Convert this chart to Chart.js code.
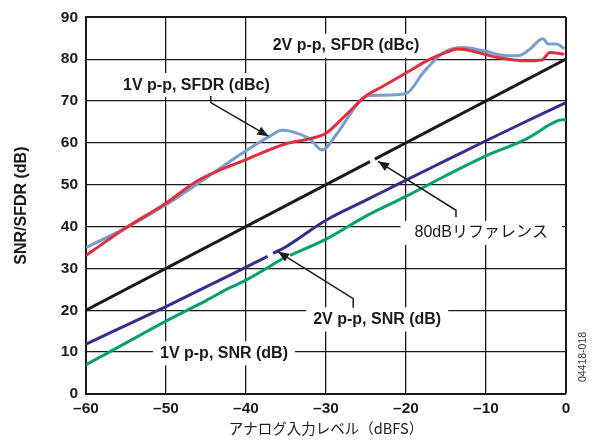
<!DOCTYPE html>
<html>
<head>
<meta charset="utf-8">
<script src="https://cdn.jsdelivr.net/npm/chart.js@4/dist/chart.umd.min.js"></script>
<style>
    html, body { margin: 0; padding: 0; background: #fff; }
    #chart { display: block; }
</style>
</head>
<body>
<canvas id="chart" width="594" height="440"></canvas>
<script>
// Values (x = input level, dBFS)
const xTicks = [-60, -50, -40, -30, -20, -10, 0];
const yTicks = [0, 10, 20, 30, 40, 50, 60, 70, 80, 90];

// 1V p-p, SFDR (dBc)
const sfdr1VX = [-60, -55, -50, -46, -40, -37, -35.5, -34.5, -32, -30.5, -28.7, -26.2, -25, -23, -20, -17.8, -15.3, -12.8, -10.3, -7.4, -5.8, -4.5, -2.9, -2.2, -1.2, -0.2];
const sfdr1V = [35, 39.7, 45.2, 50.3, 58.1, 61.6, 63, 62.8, 60.9, 58.3, 62, 69, 71.2, 71.4, 71.8, 76.9, 81.6, 82.8, 82, 80.8, 80.9, 82.4, 84.9, 83.6, 83.6, 82.5];

// 2V p-p, SFDR (dBc)
const sfdr2VX = [-60, -55, -50, -46, -40, -35, -32, -30, -27.5, -25, -23, -20, -17, -15, -13.5, -11, -8.5, -5, -3, -2, -0.2];
const sfdr2V = [33.1, 39.7, 45.6, 51, 56, 59.8, 61, 62.3, 66.7, 71.2, 73.4, 76.7, 80, 81.6, 82.4, 81.6, 80.4, 79.6, 79.8, 81.6, 81.2];

// 80dB reference (gap where the arrow touches it)
const refX = [-60, -24.5, -24.2, -23.9, 0];
const refLevel = [20, 55.5, null, 56.1, 80];

// 2V p-p, SNR (dB)
const snr2VX = [-60, -55, -50, -45, -42, -37.3, -37, -36.6, -35, -30, -25, -20, -15, -10, -5, 0];
const snr2V = [11.9, 16.4, 20.9, 25.6, 28.4, 32.9, null, 33.6, 35.2, 41.5, 46.3, 51.1, 55.8, 60.5, 65.1, 69.6];

// 1V p-p, SNR (dB)
const snr1VX = [-60, -55, -50, -45, -42, -40, -35.2, -34.9, -34.5, -30, -25, -20, -15, -10, -5, -1, 0];
const snr1V = [7, 12.2, 17.4, 22.3, 25.4, 27.2, 32.6, null, 33.1, 37, 42.5, 47.2, 52.2, 56.9, 60.9, 65.3, 65.6];

const labelFont = '"Liberation Sans", Arial, "Noto Sans CJK JP", sans-serif';

/**
 * Callout texts, in data coordinates
 */
const callouts = [
    { text: '2V p-p, SFDR (dBc)', x: -27.5, y: 83.2, bold: true, padX: 6 },
    { text: '1V p-p, SFDR (dBc)', x: -46.2, y: 73.8, bold: true, padX: 6 },
    { text: '80dBリファレンス', x: -10.6, y: 38.5, bold: false, padX: 14 },
    { text: '2V p-p, SNR (dB)', x: -23.6, y: 17.8, bold: true, padX: 7 },
    { text: '1V p-p, SNR (dB)', x: -42.75, y: 9.7, bold: true, padX: 7 }
];

// Leader lines, last point carries the arrow head
const leaders = [
    [[-44.4, 71.2], [-44.4, 69.6], [-37.2, 61.6]],
    [[-13.75, 42.3], [-13.75, 43.9], [-23.5, 55.6]],
    [[-26.6, 20.6], [-26.6, 22.8], [-36, 34.0]]
];

function toPoints(xs, ys) {
    return xs.map((x, i) => ({ x: x, y: ys[i] }));
}

function makeSet(xs, ys, color) {
    return {
        data: toPoints(xs, ys),
        borderColor: color,
        borderWidth: 3,
        pointRadius: 0,
        fill: false,
        spanGaps: false,
        cubicInterpolationMode: 'monotone'
    };
}

function drawArrow(ctx, from, to) {
    const ang = Math.atan2(to[1] - from[1], to[0] - from[0]);
    const len = 11, half = 4.5;
    ctx.beginPath();
    ctx.moveTo(to[0], to[1]);
    ctx.lineTo(to[0] - len * Math.cos(ang) + half * Math.sin(ang), to[1] - len * Math.sin(ang) - half * Math.cos(ang));
    ctx.lineTo(to[0] - len * Math.cos(ang) - half * Math.sin(ang), to[1] - len * Math.sin(ang) + half * Math.cos(ang));
    ctx.closePath();
    ctx.fill();
}

const calloutPlugin = {
    id: 'callouts',
    beforeDatasetsDraw(chart) {
        const ctx = chart.ctx;
        const xs = chart.scales.x, ys = chart.scales.y;
        ctx.save();
        // white boxes behind the callouts
        ctx.fillStyle = '#fff';
        callouts.forEach(c => {
            ctx.font = (c.bold ? 'bold ' : '') + '16px ' + labelFont;
            const w = ctx.measureText(c.text).width + 2 * c.padX;
            const px = xs.getPixelForValue(c.x), py = ys.getPixelForValue(c.y);
            ctx.fillRect(px - w / 2, py - 12, w, 24);
        });
        ctx.restore();
    },
    afterDatasetsDraw(chart) {
        const ctx = chart.ctx;
        const xs = chart.scales.x, ys = chart.scales.y;
        ctx.save();
        ctx.fillStyle = '#1a1a1a';
        ctx.textAlign = 'center';
        ctx.textBaseline = 'middle';
        callouts.forEach(c => {
            ctx.font = (c.bold ? 'bold ' : '') + '16px ' + labelFont;
            ctx.fillText(c.text, xs.getPixelForValue(c.x), ys.getPixelForValue(c.y));
        });
        ctx.strokeStyle = '#1a1a1a';
        ctx.lineWidth = 1.5;
        leaders.forEach(pts => {
            const p = pts.map(d => [xs.getPixelForValue(d[0]), ys.getPixelForValue(d[1])]);
            ctx.beginPath();
            ctx.moveTo(p[0][0], p[0][1]);
            for (let i = 1; i < p.length; i++) ctx.lineTo(p[i][0], p[i][1]);
            ctx.stroke();
            drawArrow(ctx, p[p.length - 2], p[p.length - 1]);
        });
        ctx.restore();
    },
    afterDraw(chart) {
        const ctx = chart.ctx;
        const area = chart.chartArea;
        ctx.save();
        ctx.fillStyle = '#1a1a1a';
        ctx.textAlign = 'center';
        ctx.textBaseline = 'middle';
        // x title
        ctx.font = '14.5px "Noto Sans CJK JP", ' + labelFont;
        ctx.fillText('アナログ入力レベル（dBFS）', 326, 428);
        // y title
        ctx.save();
        ctx.translate(22, (area.top + area.bottom) / 2);
        ctx.rotate(-Math.PI / 2);
        ctx.font = 'bold 16px ' + labelFont;
        ctx.fillText('SNR/SFDR (dB)', 0, 0);
        ctx.restore();
        // figure id
        ctx.save();
        ctx.translate(583, 357);
        ctx.rotate(-Math.PI / 2);
        ctx.font = '10.5px ' + labelFont;
        ctx.fillStyle = '#333';
        ctx.fillText('04418-018', 0, 0);
        ctx.restore();
        ctx.restore();
    }
};

const tickFont = { family: labelFont, size: 15.5, weight: 'bold' };

new Chart(document.getElementById('chart'), {
    type: 'line',
    data: {
        datasets: [
            makeSet(refX, refLevel, '#1a1a1a'),
            makeSet(snr2VX, snr2V, '#3a2c8e'),
            makeSet(snr1VX, snr1V, '#05a06c'),
            makeSet(sfdr2VX, sfdr2V, '#e0303f'),
            makeSet(sfdr1VX, sfdr1V, '#779dd0')
        ]
    },
    options: {
        responsive: false,
        devicePixelRatio: 1,
        animation: false,
        layout: { padding: { top: 11, right: 28, left: 0, bottom: 0 } },
        plugins: {
            legend: { display: false },
            tooltip: { enabled: false }
        },
        scales: {
            x: {
                type: 'linear',
                min: -60,
                max: 0,
                afterBuildTicks: scale => { scale.ticks = xTicks.map(v => ({ value: v })); },
                afterFit: scale => { scale.height = 46; },
                ticks: {
                    color: '#1a1a1a',
                    font: tickFont,
                    padding: 5,
                    callback: v => (v < 0 ? '\u2013' + Math.abs(v) : String(v))
                },
                grid: {
                    color: '#1a1a1a',
                    lineWidth: ctx => (ctx.tick && ctx.tick.value === 0 ? 2 : 1.3),
                    drawTicks: false
                },
                border: { color: '#1a1a1a', width: 2 }
            },
            y: {
                min: 0,
                max: 90,
                afterBuildTicks: scale => { scale.ticks = yTicks.map(v => ({ value: v })); },
                afterFit: scale => { scale.width = 86; },
                ticks: {
                    color: '#1a1a1a',
                    font: tickFont,
                    padding: 8
                },
                grid: {
                    color: '#1a1a1a',
                    lineWidth: ctx => (ctx.tick && ctx.tick.value === 90 ? 2 : 1.3),
                    drawTicks: false
                },
                border: { color: '#1a1a1a', width: 2 }
            }
        }
    },
    plugins: [calloutPlugin]
});
</script>
</body>
</html>
